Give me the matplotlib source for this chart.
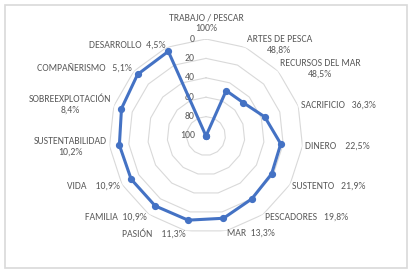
import numpy as np
import matplotlib
matplotlib.use('Agg')
import matplotlib.pyplot as plt
from matplotlib.patches import Rectangle

categories = ['TRABAJO / PESCAR', 'ARTES DE PESCA', 'RECURSOS DEL MAR', 'SACRIFICIO',
              'DINERO', 'SUSTENTO', 'PESCADORES', 'MAR', 'PASIÓN', 'FAMILIA', 'VIDA',
              'SUSTENTABILIDAD', 'SOBREEXPLOTACIÓN', 'COMPAÑERISMO', 'DESARROLLO']
values = [100, 48.8, 48.5, 36.3, 22.5, 21.9, 19.8, 13.3, 11.3, 10.9, 10.9, 10.2, 8.4, 5.1, 4.5]
r_ticks = [0, 20, 40, 60, 80, 100]
# spaces between name and percentage; 0 = percentage on a second line
gaps = [0, 0, 0, 3, 4, 3, 3, 2, 4, 2, 4, 0, 0, 3, 2]

plt.rcParams['font.family'] = ['Carlito', 'Liberation Sans', 'DejaVu Sans']
txt_color = '#595959'
grid_color = '#d9d9d9'
blue = '#4472C4'


def pct(v):
    return ('%g' % v).replace('.', ',') + '%'


n = len(categories)
theta = np.arange(n) * 2 * np.pi / n
theta_c = np.append(theta, theta[0])

fig = plt.figure(figsize=(4.11, 2.74), dpi=100)
cx, cy, R = 206, 136, 97
ax = fig.add_axes([(cx - R) / 411, (274 - cy - R) / 274, 2 * R / 411, 2 * R / 274],
                  projection='polar')
ax.set_theta_zero_location('N')
ax.set_theta_direction(-1)
ax.set_rlim(100, 0)
ax.grid(False)
ax.spines['polar'].set_visible(False)
ax.set_xticks([])
ax.set_yticks([])
ax.patch.set_alpha(0)

# polygon grid
for t in r_ticks[:-1]:
    ax.plot(theta_c, [t] * (n + 1), color=grid_color, lw=0.8, zorder=1)

# radial tick labels
for t in r_ticks:
    ax.annotate(str(t), xy=(0, t), xytext=(-8, 0), textcoords='offset points',
                ha='right', va='center', fontsize=7, color=txt_color)

# data
v_c = values + values[:1]
ax.plot(theta_c, v_c, color=blue, lw=2.2, marker='o', markersize=4.2, zorder=3,
        clip_on=False)

# category labels
for ang, name, v, g in zip(theta, categories, values, gaps):
    s, c = np.sin(ang), np.cos(ang)
    if g == 0:
        lab = name + '\n' + pct(v)
    else:
        lab = name + ' ' * g + pct(v)
    if abs(s) < 0.1:
        ha = 'center'
    elif s > 0:
        ha = 'left'
    else:
        ha = 'right'
    va = 'bottom' if c > 0.99 else 'center'
    off = 4 if c > 0.99 else 2
    ax.annotate(lab, xy=(ang, 0), xytext=(off * s, off * c), textcoords='offset points',
                ha=ha, va=va, multialignment='center', fontsize=7, color=txt_color,
                linespacing=1.25, annotation_clip=False)

fig.patches.append(Rectangle((4.5 / 411, 6.5 / 274), 402.5 / 411, 263 / 274,
                             transform=fig.transFigure, fill=False,
                             edgecolor=grid_color, lw=1.2))

fig.savefig('out.png', dpi=100)
